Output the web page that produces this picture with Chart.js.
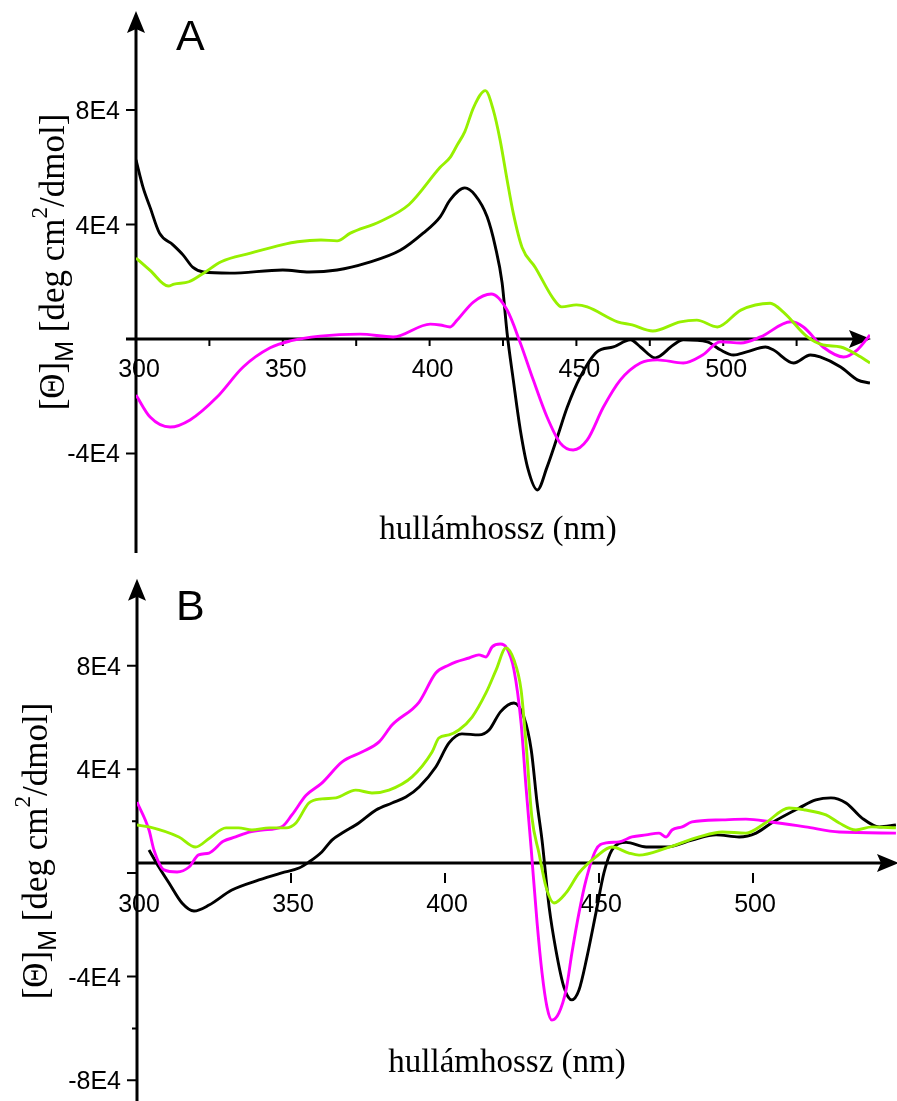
<!DOCTYPE html>
<html>
<head>
<meta charset="utf-8">
<script src="https://cdn.jsdelivr.net/npm/chart.js@4.4.1/dist/chart.umd.min.js"></script>
<style>
  body { margin: 0; background: #fff; }
  #wrap { position: relative; width: 897px; height: 1101px; overflow: hidden; }
  canvas { position: absolute; left: 0; }
</style>
</head>
<body>
<div id="wrap">
  <canvas id="chartA" width="897" height="560" style="top:0px"></canvas>
  <canvas id="chartB" width="897" height="541" style="top:560px"></canvas>
</div>
<script>
// tick labels
const xTickVals = [300, 350, 400, 450, 500];
const xMinorA = [325, 375, 425, 475, 525];
const yTicksA = [80000, 40000, -40000];
const yLabelsA = ["8E4", "4E4", "-4E4"];
const yTicksB = [80000, 40000, -40000, -80000];
const yLabelsB = ["8E4", "4E4", "-4E4", "-8E4"];
const yMinorB = [20000, -60000];

// panel A (wavelength nm / [Θ]M deg cm2/dmol)
const wlGreenA = [300,304.8,311,313,318,323,329,339,350,355,363,368.5,373,383,393,403.6,407,409.4,412,415,419,421.7,424,426.4,428.5,431.5,436,442,445,450,453.7,464,469,476,485.4,491,498,506,516,520.5,528.7,534,540,545.7,550];
const greenA = [28300,24000,18500,19200,20000,23000,27000,30000,33000,34000,34600,34300,37000,41000,47000,60000,63500,67800,72500,81000,86800,80000,69600,55600,44000,32000,25000,14300,11200,11900,11200,6000,4900,2800,6000,6600,4200,10100,12500,9400,700,-2100,-2800,-5600,-8400];

const wlBlackA = [300,302.4,304.8,308,312.6,316,319.4,323,332,350,359,368.5,378.7,390,397.8,403.6,407,412,415.5,419.6,422.4,424.7,426.4,428.5,430.9,433.6,436.7,440,443.5,446.9,451.3,457,462.6,468.4,471.8,476.9,483,486.4,494.6,499,503.5,508,514.4,517,524,529.7,533,540,545.7,550];
const blackA = [62600,53000,46000,37000,32900,29400,25000,23400,23000,24100,23400,24100,26600,31000,37000,42700,48600,52800,50300,42700,32200,19600,2000,-14300,-31800,-45800,-52800,-44800,-34300,-23800,-13300,-4500,-2800,-300,-2800,-6600,-2100,-300,-1000,-3800,-5600,-4500,-2800,-3800,-8400,-5600,-6300,-9800,-14300,-15400];

const wlMagA = [300,304.8,311.6,318.4,327.6,336.5,345.7,352.5,362.7,376.3,387.6,400.2,403.6,407,409.4,414.9,421,426.4,430.9,435.3,440,444.5,448.9,453.7,459.2,465,471.8,477.6,486.4,493,499,506,512.7,523,527.3,534,541,545.7,550];
const magA = [-19600,-27300,-30800,-28300,-20300,-9800,-3100,-700,1000,1700,700,5200,4900,4200,6600,12900,15700,10100,-1400,-14300,-27300,-36400,-38800,-35300,-23800,-14300,-8400,-7300,-8400,-5600,-1000,-1400,700,6000,4200,-2800,-6300,-3800,1400];

// panel B
const wlMagB = [300,303.9,305.5,308.8,313,316.9,320,323.4,328,332,336.4,340.6,347,350.3,354.9,360,366.6,373,378.6,382.8,391.6,397,401.3,403.6,407.8,411,413.3,415.3,418,420,422.4,424.7,426.3,428,429.9,431.5,433.1,434.7,437,439.3,441.2,443.5,445.8,449,452.3,456.5,460.7,465.3,469.5,471.8,473.7,477,480.2,490,497.7,506,517,528,546.4];
const magB = [27400,16600,8900,1200,400,2300,7000,7700,12200,13900,15800,16600,17800,22400,30000,34700,42900,46700,50600,57100,66000,77200,80300,81500,83000,84200,83400,87300,88400,86900,78400,57900,33200,9000,-19300,-38600,-51700,-56800,-54000,-45200,-30900,-15400,-2700,8900,11600,12000,13900,14700,15400,13900,16600,17800,19700,20500,20800,19700,17800,15800,15400];

const wlGreenB = [300,303.9,313.6,319,323.4,328.9,333,337.3,342.9,348.4,351.6,355.8,360,364.6,371,376.3,381.8,389.3,395.8,398,401.3,404.5,408.8,413.3,416.6,419.8,422.4,424.7,426.3,428.2,430.5,432.8,435.4,439.3,443.5,449,454.2,459.7,463,471.8,482.5,490,497.7,504,511.7,517,523.7,528,533.4,538.6,546.4];
const greenB = [18500,17800,13900,10000,13300,17400,17400,16600,17400,17400,19300,27000,28600,29000,32000,30900,32000,37100,46700,52100,53300,55200,60200,69500,78400,86900,82200,70700,50200,21600,7700,-5400,-11600,-7700,0,6200,10000,7700,6900,9600,13900,15800,15400,19300,25100,24300,22400,19300,16600,17800,17400];

const wlBlackB = [303.9,307.1,310.4,314.6,318.5,323.4,330.8,339.6,347,352.6,355.8,360,363.3,366.6,372,377.6,382.8,387.3,391.6,397,401.3,405.5,411,414.3,418,422.4,425.6,428,429.9,431.5,433.8,436,438.6,441.2,443.5,446.1,449,451.6,454.2,458.8,465.3,471.8,480.2,488,495.5,501,506,515,520.4,525.3,530.2,535.4,541,546.4];
const blackB = [8900,2300,-3900,-11600,-14700,-12400,-6600,-2700,0,1900,4200,8100,12700,15400,19300,24300,27000,29300,33200,40900,50200,53700,53300,55200,62200,65600,60200,47500,27000,12700,-13100,-29700,-44000,-49000,-45200,-32400,-15400,0,8900,11800,10000,10000,12700,14700,13900,15400,19300,25100,28200,29000,27000,21200,17800,18500];

const GREEN = "#97f000";
const MAGENTA = "#ff00ff";
const BLACK = "#000000";

const sans = '"Liberation Sans", Arial, sans-serif';
const serif = '"Liberation Serif", "Times New Roman", serif';

function pts(xs, ys) {
  return xs.map((x, i) => ({ x: x, y: ys[i] }));
}

function line(label, xs, ys, color) {
  return {
    label: label,
    data: pts(xs, ys),
    borderColor: color,
    borderWidth: 2.9,
    pointRadius: 0,
    cubicInterpolationMode: "monotone",
    fill: false,
  };
}

function drawYTitle(ctx, x, y) {
  const parts = [
    ["[\u0398]", "35px " + serif, 0],
    ["M", "25px " + sans, 9],
    [" [deg cm", "35px " + serif, 0],
    ["2", "23px " + serif, -17],
    ["/dmol]", "35px " + serif, 0],
  ];
  ctx.save();
  ctx.translate(x, y);
  ctx.rotate(-Math.PI / 2);
  ctx.textAlign = "left";
  ctx.textBaseline = "alphabetic";
  let total = 0;
  parts.forEach((p) => {
    ctx.font = p[1];
    total += ctx.measureText(p[0]).width;
  });
  let cx = -total / 2;
  parts.forEach((p) => {
    ctx.font = p[1];
    ctx.fillText(p[0], cx, p[2]);
    cx += ctx.measureText(p[0]).width;
  });
  ctx.restore();
}

// axes with arrows, drawn in the figure's own style
const arrowAxes = {
  id: "arrowAxes",
  beforeDatasetsDraw(chart, args, o) {
    const ctx = chart.ctx;
    const xs = chart.scales.x;
    const ys = chart.scales.y;
    const area = chart.chartArea;
    const x0 = xs.getPixelForValue(300);
    const yZero = ys.getPixelForValue(0);
    const yLine = yZero + o.lineShift;

    ctx.save();
    ctx.fillStyle = "#000";
    ctx.strokeStyle = "#000";

    // tick labels
    ctx.font = "25px " + sans;
    ctx.textAlign = "center";
    ctx.textBaseline = "alphabetic";
    xTickVals.forEach((v) => {
      ctx.fillText(String(v), xs.getPixelForValue(v) + o.xLabelDx, yZero + o.xLabelDy);
    });
    ctx.textAlign = "right";
    o.yTicks.forEach((v, i) => {
      ctx.fillText(o.yLabels[i], x0 - 16, ys.getPixelForValue(v) + 9);
    });

    // tick marks
    ctx.lineWidth = 2;
    ctx.beginPath();
    xTickVals.concat(o.xMinor).forEach((v) => {
      if (v === 300) return;
      const px = xs.getPixelForValue(v);
      ctx.moveTo(px, yZero + o.xTickFrom);
      ctx.lineTo(px, yZero + o.xTickFrom + o.xTickLen);
    });
    o.yTicks.concat([0]).forEach((v) => {
      const py = ys.getPixelForValue(v);
      ctx.moveTo(x0 - 10, py);
      ctx.lineTo(x0, py);
    });
    o.yMinor.forEach((v) => {
      const py = ys.getPixelForValue(v);
      ctx.moveTo(x0 - 5, py);
      ctx.lineTo(x0, py);
    });
    ctx.stroke();

    // axis lines
    ctx.lineWidth = 3;
    ctx.beginPath();
    ctx.moveTo(x0, o.yBottom);
    ctx.lineTo(x0, area.top + 16);
    ctx.moveTo(o.xStart, yLine);
    ctx.lineTo(o.xTip - 16, yLine);
    ctx.stroke();

    // arrow heads
    const top = area.top + 1;
    ctx.beginPath();
    ctx.moveTo(x0, top);
    ctx.lineTo(x0 + 9, top + 22);
    ctx.lineTo(x0, top + 18);
    ctx.lineTo(x0 - 9, top + 22);
    ctx.closePath();
    ctx.fill();
    ctx.beginPath();
    ctx.moveTo(o.xTip, yLine);
    ctx.lineTo(o.xTip - 22, yLine - 9);
    ctx.lineTo(o.xTip - 18, yLine);
    ctx.lineTo(o.xTip - 22, yLine + 9);
    ctx.closePath();
    ctx.fill();

    // titles
    ctx.font = "43px " + sans;
    ctx.textAlign = "left";
    ctx.fillText(o.letter, 176, o.letterY);
    ctx.font = "33px " + serif;
    ctx.textAlign = "center";
    ctx.fillText("hull\u00e1mhossz (nm)", o.xTitleX, o.xTitleY);
    drawYTitle(ctx, o.yTitleX, o.yTitleY);
    ctx.restore();
  },
};

function makeChart(id, datasets, xMax, yMin, yMax, padding, axisOpts) {
  return new Chart(document.getElementById(id), {
    type: "line",
    data: { datasets: datasets },
    options: {
      responsive: false,
      animation: false,
      layout: { padding: padding },
      scales: {
        x: { type: "linear", min: 300, max: xMax, display: false },
        y: { type: "linear", min: yMin, max: yMax, display: false },
      },
      plugins: {
        legend: { display: false },
        tooltip: { enabled: false },
        arrowAxes: axisOpts,
      },
    },
    plugins: [arrowAxes],
  });
}

makeChart(
  "chartA",
  [
    line("green", wlGreenA, greenA, GREEN),
    line("magenta", wlMagA, magA, MAGENTA),
    line("black", wlBlackA, blackA, BLACK),
  ],
  550, -75000, 115000,
  { left: 136, right: 27, top: 10, bottom: 6.5 },
  {
    lineShift: 0, xStart: 126, xTip: 871, yBottom: 553,
    xTickFrom: 1, xTickLen: 6, xMinor: xMinorA,
    xLabelDx: 3, xLabelDy: 38,
    yTicks: yTicksA, yLabels: yLabelsA, yMinor: [],
    letter: "A", letterY: 50,
    xTitleX: 498, xTitleY: 539,
    yTitleX: 64, yTitleY: 262,
  }
);

makeChart(
  "chartB",
  [
    line("green", wlGreenB, greenB, GREEN),
    line("magenta", wlMagB, magB, MAGENTA),
    line("black", wlBlackB, blackB, BLACK),
  ],
  546.75, -88000, 114000,
  { left: 137, right: 0, top: 17.7, bottom: 0.1 },
  {
    lineShift: -10, xStart: 137, xTip: 899, yBottom: 545,
    xTickFrom: 0, xTickLen: 10, xMinor: [],
    xLabelDx: 2, xLabelDy: 39,
    yTicks: yTicksB, yLabels: yLabelsB, yMinor: yMinorB,
    letter: "B", letterY: 60,
    xTitleX: 507, xTitleY: 512,
    yTitleX: 47, yTitleY: 291,
  }
);
</script>
</body>
</html>
